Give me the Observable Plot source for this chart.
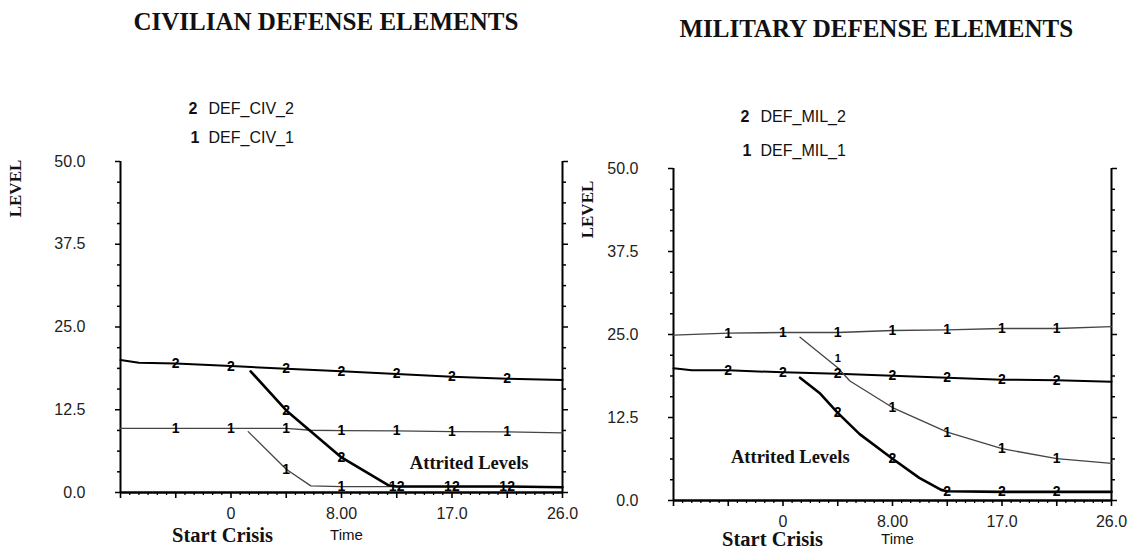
<!DOCTYPE html>
<html><head><meta charset="utf-8">
<script src="https://cdn.jsdelivr.net/npm/d3@7"></script>
<script src="https://cdn.jsdelivr.net/npm/@observablehq/plot@0.6"></script>
<style>
html,body{margin:0;padding:0;background:#fff;}
#wrap{position:relative;width:1138px;height:550px;overflow:hidden;background:#fff;}
#wrap svg{position:absolute;top:0;overflow:visible;}
</style></head><body><div id="wrap"></div>
<script>
// ---------- data ----------
const xTickValues = [-1, 8, 17, 26];
const xTickLabels = ["0", "8.00", "17.0", "26.0"];
const yTickValues = [0, 12.5, 25, 37.5, 50];
const yTickLabels = ["0.0", "12.5", "25.0", "37.5", "50.0"];
const markerTimes = [-5.5, -1, 3.5, 8, 12.5, 17, 21.5];

// Civilian panel
const civ2Time = [-10, -8.5, -5.5, -1, 3.5, 8, 12.5, 17, 21.5, 26];
const civ2Level = [20.0, 19.6, 19.5, 19.1, 18.7, 18.3, 17.9, 17.5, 17.2, 17.0];
const civ1Time = [-10, -5.5, -1, 3.5, 5.5, 8, 12.5, 17, 21.5, 26];
const civ1Level = [9.7, 9.7, 9.7, 9.7, 9.4, 9.35, 9.3, 9.2, 9.15, 9.0];
const civ2AttrTime = [0.6, 3.5, 8, 11.8, 12.5, 17, 21.5, 26];
const civ2AttrLevel = [18.3, 12.4, 5.3, 1.1, 0.9, 0.9, 0.9, 0.8];
const civ1AttrTime = [0.4, 3.5, 5.5, 8, 12.5, 17, 21.5, 26];
const civ1AttrLevel = [9.2, 3.5, 1.0, 0.9, 0.9, 0.9, 0.9, 0.8];
const civAttrSingleMarks = [3.5, 8];
const civAttrPairMarks = [12.5, 17, 21.5];

// Military panel
const mil1Time = [-10, -5.5, -1, 3.5, 8, 12.5, 17, 21.5, 26];
const mil1Level = [24.9, 25.2, 25.3, 25.3, 25.6, 25.7, 25.9, 25.9, 26.2];
const mil2Time = [-10, -8.5, -5.5, -1, 3.5, 8, 12.5, 17, 21.5, 26];
const mil2Level = [19.9, 19.6, 19.6, 19.3, 19.1, 18.8, 18.5, 18.2, 18.1, 17.9];
const mil1AttrTime = [0.4, 3.5, 4.5, 8, 12.5, 17, 21.5, 26];
const mil1AttrLevel = [24.6, 20.0, 18.0, 14.0, 10.3, 7.8, 6.3, 5.6];
const mil2AttrTime = [0.4, 2, 3.5, 5.3, 8, 10.2, 12, 12.5, 17, 21.5, 26];
const mil2AttrLevel = [18.5, 16.2, 13.2, 10.0, 6.3, 3.4, 1.6, 1.4, 1.3, 1.3, 1.3];
const milAttrMarks = [8, 12.5, 17, 21.5];
const milAttrEarlyMark = [3.5];

// ---------- helpers ----------
const SERIF = "Liberation Serif, Times New Roman, serif";
const SANS = "Liberation Sans, Arial, Helvetica, sans-serif";
const series = (ts, vs) => ts.map((t, i) => ({t, v: vs[i]}));
const marks = (s, times) => s.filter(d => times.includes(d.t));
const majorX = d3.range(-10, 26.01, 4.5);
const minorX = d3.range(-10, 26.01, 0.75).filter(d => !majorX.includes(d));
const minorY = d3.range(0, 50.01, 3.125).filter(d => !yTickValues.includes(d));

function panel(cfg) {
  const {left, width, mL, mR, mT, mB} = cfg;
  const at = (px, py) => ({frameAnchor: "top-left", dx: px - left - mL, dy: py - mT});
  const txt = (s, px, py, o) => Plot.text([s], {text: d => d, ...at(px, py), lineAnchor: "middle", fill: "#111", ...o});
  const xFmt = d => { const i = xTickValues.indexOf(d); return i >= 0 ? xTickLabels[i] : ""; };
  const yFmt = d => yTickLabels[yTickValues.indexOf(d)];
  const m = [
    Plot.axisY(yTickValues, {anchor: "left", tickSize: 5, tickPadding: 30, tickFormat: yFmt, fontSize: 16, fontFamily: SANS, fill: "#222", label: null, strokeWidth: 1.5}),
    Plot.axisY(minorY, {anchor: "left", tickSize: 3, tickFormat: () => "", label: null, strokeWidth: 1.5}),
    Plot.axisY(yTickValues, {anchor: "right", tickSize: 5, tickFormat: () => "", label: null, strokeWidth: 1.5}),
    Plot.axisY(minorY, {anchor: "right", tickSize: 3, tickFormat: () => "", label: null, strokeWidth: 1.5}),
    Plot.axisX(majorX, {anchor: "bottom", tickSize: 6, tickPadding: 9, tickFormat: xFmt, fontSize: 16, fontFamily: SANS, fill: "#222", label: null, strokeWidth: 1.6}),
    Plot.axisX(minorX, {anchor: "bottom", tickSize: 3, tickFormat: () => "", label: null, strokeWidth: 1.3}),
    Plot.ruleX([-10, 26], {stroke: "black", strokeWidth: 2}),
    Plot.ruleY([0], {stroke: "black", strokeWidth: 2.4})
  ];
  for (const l of cfg.lines) {
    m.push(Plot.line(l.data, {x: "t", y: "v", stroke: l.stroke, strokeWidth: l.w}));
  }
  for (const k of cfg.markers) {
    m.push(Plot.text(k.data, {x: "t", y: "v", text: () => k.label, dx: k.dx || 0, dy: k.dy || 0, fontSize: k.size || 14, fontWeight: "bold", fontFamily: SANS, fill: "black"}));
  }
  m.push(Plot.text(["Attrited Levels"], {x: cfg.attr[0], y: cfg.attr[1], text: d => d, fontSize: 18.5, fontWeight: "bold", fontFamily: SERIF, fill: "#111"}));
  m.push(txt(cfg.title, cfg.titlePos[0], cfg.titlePos[1], {textAnchor: "start", fontSize: 25, fontWeight: "bold", fontFamily: SERIF}));
  m.push(txt("2", cfg.leg[0], cfg.leg[1], {textAnchor: "start", fontSize: 16, fontWeight: "bold", fontFamily: SANS}));
  m.push(txt(cfg.names[0], cfg.leg[0] + 20, cfg.leg[1], {textAnchor: "start", fontSize: 16, fontFamily: SANS}));
  m.push(txt("1", cfg.leg[0] + 2, cfg.leg[2], {textAnchor: "start", fontSize: 16, fontWeight: "bold", fontFamily: SANS}));
  m.push(txt(cfg.names[1], cfg.leg[0] + 20, cfg.leg[2], {textAnchor: "start", fontSize: 16, fontFamily: SANS}));
  m.push(txt("LEVEL", cfg.levelPos[0], cfg.levelPos[1], {textAnchor: "middle", rotate: -90, fontSize: 17, fontWeight: "bold", fontFamily: SERIF}));
  m.push(txt("Start Crisis", cfg.startPos[0], cfg.startPos[1], {textAnchor: "middle", fontSize: 20.5, fontWeight: "bold", fontFamily: SERIF}));
  m.push(txt("Time", cfg.timePos[0], cfg.timePos[1], {textAnchor: "middle", fontSize: 15, fontFamily: SANS}));

  const svg = Plot.plot({
    width, height: 550, marginLeft: mL, marginRight: mR, marginTop: mT, marginBottom: mB,
    x: {domain: [-10, 26]}, y: {domain: [0, 50]},
    style: {background: "transparent", overflow: "visible"},
    marks: m
  });
  svg.style.left = left + "px";
  svg.style.position = "absolute";
  return svg;
}

const civ2 = series(civ2Time, civ2Level);
const civ1 = series(civ1Time, civ1Level);
const civ2A = series(civ2AttrTime, civ2AttrLevel);
const civ1A = series(civ1AttrTime, civ1AttrLevel);
const mil1 = series(mil1Time, mil1Level);
const mil2 = series(mil2Time, mil2Level);
const mil1A = series(mil1AttrTime, mil1AttrLevel);
const mil2A = series(mil2AttrTime, mil2AttrLevel);

const wrap = document.getElementById("wrap");
wrap.appendChild(panel({
  left: 0, width: 575, mL: 120, mR: 13, mT: 161, mB: 58,
  title: "CIVILIAN DEFENSE ELEMENTS", titlePos: [133, 21.5],
  names: ["DEF_CIV_2", "DEF_CIV_1"], leg: [188, 108, 137],
  levelPos: [15, 188], startPos: [222, 535], timePos: [346, 535],
  attr: [18.4, 4.5],
  lines: [
    {data: civ1, stroke: "#444", w: 1.3},
    {data: civ2, stroke: "black", w: 2},
    {data: civ1A, stroke: "#444", w: 1.3},
    {data: civ2A, stroke: "black", w: 2.6}
  ],
  markers: [
    {data: marks(civ2, markerTimes), label: "2"},
    {data: marks(civ1, markerTimes), label: "1"},
    {data: marks(civ2A, civAttrSingleMarks), label: "2"},
    {data: marks(civ1A, civAttrSingleMarks), label: "1"},
    {data: marks(civ1A, civAttrPairMarks), label: "1", dx: -4},
    {data: marks(civ2A, civAttrPairMarks), label: "2", dx: 4}
  ]
}));
wrap.appendChild(panel({
  left: 575, width: 563, mL: 98, mR: 27, mT: 168, mB: 50,
  title: "MILITARY DEFENSE ELEMENTS", titlePos: [679, 28],
  names: ["DEF_MIL_2", "DEF_MIL_1"], leg: [740, 116, 150],
  levelPos: [587, 209], startPos: [772, 539], timePos: [897, 539],
  attr: [-0.4, 6.5],
  lines: [
    {data: mil1, stroke: "#444", w: 1.3},
    {data: mil2, stroke: "black", w: 2},
    {data: mil1A, stroke: "#444", w: 1.3},
    {data: mil2A, stroke: "black", w: 2.6}
  ],
  markers: [
    {data: marks(mil2, markerTimes), label: "2"},
    {data: marks(mil1, markerTimes), label: "1"},
    {data: marks(mil2A, milAttrMarks.concat(milAttrEarlyMark)), label: "2"},
    {data: marks(mil1A, milAttrMarks), label: "1"},
    {data: marks(mil1A, milAttrEarlyMark), label: "1", dy: -9, size: 11}
  ]
}));
</script></body></html>
